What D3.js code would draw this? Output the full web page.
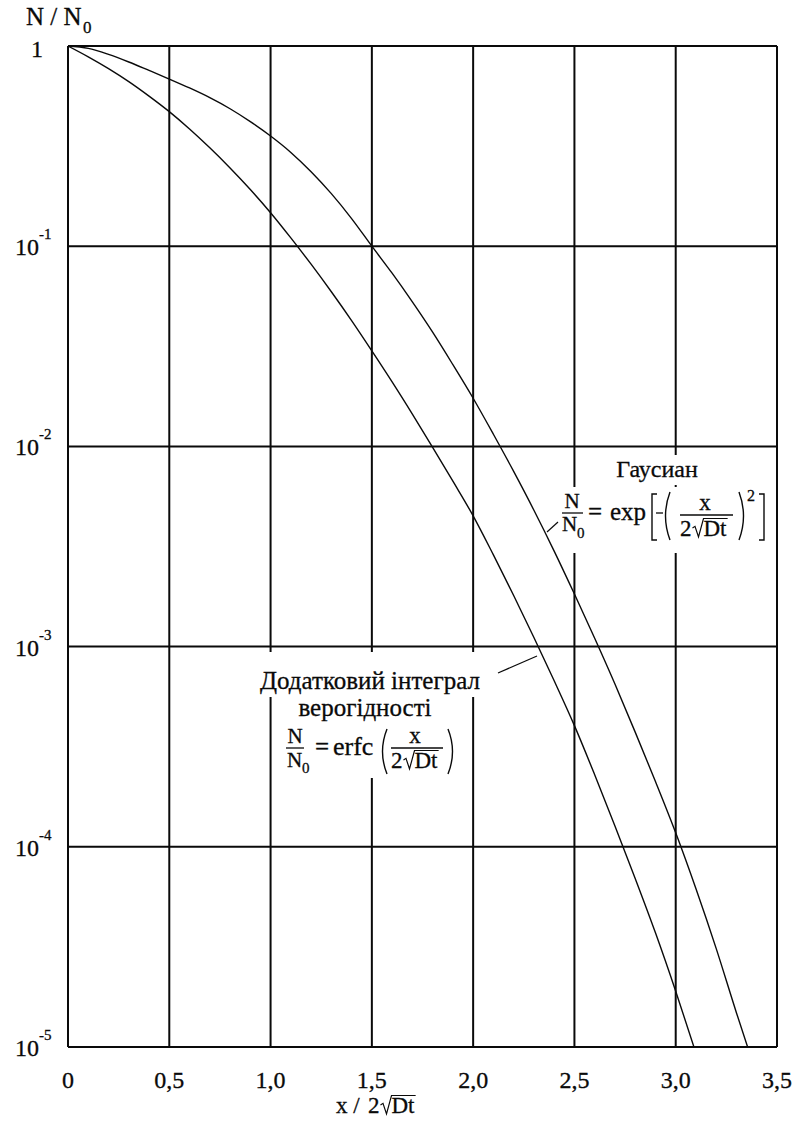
<!DOCTYPE html>
<html>
<head>
<meta charset="utf-8">
<script src="https://cdn.jsdelivr.net/npm/d3@7"></script>
<style>
  html, body { margin: 0; padding: 0; background: #fff; }
  svg { display: block; font-family: "Liberation Serif", "Times New Roman", serif; }
  svg text { stroke: #0a0a0a; stroke-width: 0.3px; }
</style>
</head>
<body>
<svg id="chart" width="795" height="1140"></svg>
<script>
// Normalised concentration N/N0 versus x / 2√(Dt)
const xTicks = [0, 0.5, 1.0, 1.5, 2.0, 2.5, 3.0, 3.5];
const xTickLabels = ["0", "0,5", "1,0", "1,5", "2,0", "2,5", "3,0", "3,5"];
const yTicks = [1, 1e-1, 1e-2, 1e-3, 1e-4, 1e-5];
const yTickExponents = ["", "-1", "-2", "-3", "-4", "-5"];

// Gaussian profile
const gaussX = [0, 0.1, 0.2, 0.3, 0.4, 0.5, 0.6, 0.7, 0.8, 0.9, 1.0, 1.1, 1.2, 1.3, 1.4,
  1.5, 1.6, 1.7, 1.8, 1.9, 2.0, 2.1, 2.2, 2.3, 2.4, 2.5, 2.6, 2.7, 2.8, 2.9, 3.0, 3.1, 3.2, 3.3, 3.355];
const gaussN = [1, 0.973, 0.908, 0.832, 0.755, 0.684, 0.617, 0.552, 0.486, 0.419, 0.355, 0.294, 0.2355, 0.183, 0.1374,
  0.1, 0.0733, 0.0527, 0.0372, 0.0256, 0.0174, 0.0115, 0.0075, 0.0048, 0.003, 0.00183, 0.0011, 0.00065,
  0.000374, 0.000212, 0.0001175, 0.0000617, 0.000031, 0.0000148, 0.00001];

// Complementary error function profile
const erfcX = [0, 0.1, 0.2, 0.3, 0.4, 0.5, 0.6, 0.7, 0.8, 0.9, 1.0, 1.1, 1.2, 1.3, 1.4,
  1.5, 1.6, 1.7, 1.8, 1.9, 2.0, 2.1, 2.2, 2.3, 2.4, 2.5, 2.6, 2.7, 2.8, 2.9, 3.0, 3.09];
const erfcN = [1, 0.883, 0.771, 0.664, 0.562, 0.47, 0.385, 0.31, 0.246, 0.192, 0.147, 0.11, 0.0813, 0.0592, 0.0425,
  0.03, 0.021, 0.0145, 0.0099, 0.0067, 0.0045, 0.00287, 0.0018, 0.00111, 0.000675, 0.000403, 0.000229,
  0.000127, 0.0000695, 0.0000372, 0.000019, 0.00001];

const svg = d3.select("#chart");
const ink = "#0a0a0a";

const x = d3.scaleLinear().domain([0, 3.5]).range([68, 777]);
const y = d3.scaleLog().domain([1e-5, 1]).range([1047, 46]);

// grid and frame
const grid = svg.append("g").attr("stroke", ink).attr("stroke-width", 2);
grid.selectAll("line.v").data(xTicks).join("line")
  .attr("x1", d => x(d)).attr("x2", d => x(d))
  .attr("y1", y(1)).attr("y2", y(1e-5));
grid.selectAll("line.h").data(yTicks).join("line")
  .attr("x1", x(0)).attr("x2", x(3.5))
  .attr("y1", d => y(d)).attr("y2", d => y(d));

// white backing behind the annotations (grid is interrupted there)
const masks = [
  [603, 455, 112, 30], [556, 487, 216, 66],
  [253, 652, 236, 45], [294, 697, 164, 81]
];
svg.append("g").selectAll("rect").data(masks).join("rect")
  .attr("x", d => d[0]).attr("y", d => d[1]).attr("width", d => d[2]).attr("height", d => d[3])
  .attr("fill", "#fff");

// curves
svg.append("clipPath").attr("id", "plot").append("rect")
  .attr("x", x(0)).attr("y", y(1) - 2).attr("width", x(3.5) - x(0)).attr("height", y(1e-5) - y(1) + 2);
const line = d3.line().x(d => x(d[0])).y(d => y(d[1])).curve(d3.curveMonotoneX);
const curves = svg.append("g").attr("clip-path", "url(#plot)")
  .attr("fill", "none").attr("stroke", ink).attr("stroke-width", 1.4);
curves.append("path").attr("d", line(d3.zip(gaussX, gaussN)));
curves.append("path").attr("d", line(d3.zip(erfcX, erfcN)));

// tick labels
svg.append("g").selectAll("text").data(xTicks).join("text")
  .attr("x", d => x(d)).attr("y", 1088)
  .attr("text-anchor", "middle").attr("font-size", 24).attr("fill", ink)
  .text((d, i) => xTickLabels[i]);

const yl = svg.append("g").attr("fill", ink);
yTicks.forEach((v, i) => {
  if (i === 0) {
    yl.append("text").attr("x", 31).attr("y", y(v) + 11).attr("font-size", 24).text("1");
  } else {
    yl.append("text").attr("x", 15).attr("y", y(v) + 9).attr("font-size", 24).text("10");
    yl.append("text").attr("x", 39).attr("y", y(v) - 7).attr("font-size", 15).text(yTickExponents[i]);
  }
});

// helpers for the formula pieces
function txt(px, py, s, size, anchor) {
  return svg.append("text").attr("x", px).attr("y", py).attr("font-size", size)
    .attr("fill", ink).attr("text-anchor", anchor || "start").text(s);
}
function seg(x1, y1, x2, y2, w) {
  svg.append("line").attr("x1", x1).attr("y1", y1).attr("x2", x2).attr("y2", y2)
    .attr("stroke", ink).attr("stroke-width", w || 1.3);
}
function pth(d, w) {
  svg.append("path").attr("d", d).attr("fill", "none").attr("stroke", ink).attr("stroke-width", w || 1.3);
}
function paren(xa, top, bot, bulge) {
  const mid = (top + bot) / 2;
  pth(`M${xa},${top} Q${xa + bulge * 2},${mid} ${xa},${bot}`, 1.4);
}
function bracket(xa, top, bot, dir) {
  pth(`M${xa + dir * 5},${top} L${xa},${top} L${xa},${bot} L${xa + dir * 5},${bot}`, 1.4);
}
// "2√Dt" with the radical drawn as a path
function rootDt(x0, base, size) {
  txt(x0, base, "2", size);
  const r0 = x0 + size * 0.5;
  const top = base - size * 0.76;
  const dx = r0 + 12;
  pth(`M${r0 + 1},${base - size * 0.35} L${r0 + 3.5},${base - size * 0.42} L${r0 + 7},${base + 1} L${dx},${top} L${dx + size * 1.05},${top}`, 1.2);
  txt(dx, base, "Dt", size);
}

// y-axis title
txt(26, 25, "N / N", 25);
txt(83, 33, "0", 17);

// x-axis title
txt(336, 1113, "x / ", 23);
rootDt(368, 1113, 23);

// Gaussian annotation
txt(657, 477, "Гаусиан", 24, "middle");
txt(572, 508, "N", 21, "middle");
seg(562, 513, 583, 513);
txt(562, 531, "N", 21);
txt(577, 538, "0", 15);
txt(588, 520, "=", 25);
txt(610, 520, "exp", 25);
bracket(652, 494, 540, 1);
seg(656, 513, 663, 513);
paren(670, 492, 540, -4.5);
txt(705, 510, "x", 23, "middle");
seg(680, 515, 733, 515);
rootDt(680, 536, 23);
paren(739, 492, 540, 4.5);
txt(747, 501, "2", 16);
bracket(764, 494, 540, -1);
seg(547, 532, 558, 522, 1.2);

// erfc annotation
txt(370, 689, "Додатковий інтеграл", 25, "middle");
txt(365, 716, "верогідності", 25, "middle");
txt(295, 743, "N", 21, "middle");
seg(286, 748, 304, 748);
txt(287, 767, "N", 21);
txt(302, 773, "0", 15);
txt(315, 755, "=", 25);
txt(333, 755, "erfc", 26);
paren(387, 729, 774, -4.5);
txt(415, 743, "x", 23, "middle");
seg(391, 748, 443, 748);
rootDt(391, 768, 23);
paren(448, 729, 774, 4.5);
seg(498, 673, 537, 656, 1.2);
</script>
</body>
</html>
